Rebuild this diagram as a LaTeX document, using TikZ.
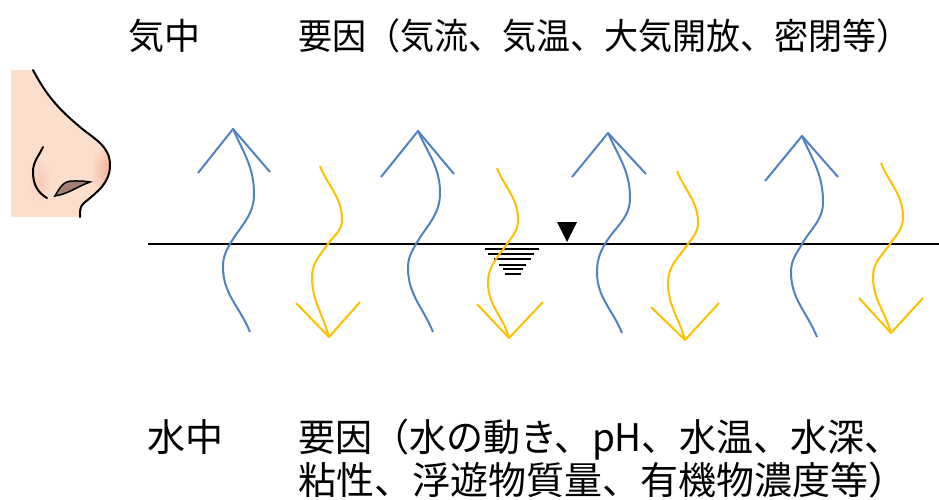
\documentclass[tikz,border=0pt]{standalone}
\usepackage{fontspec}
\newfontfamily\jp{Noto Sans CJK JP}
\definecolor{flowblue}{RGB}{79,129,195}
\definecolor{flowyellow}{RGB}{255,192,0}
\definecolor{skin}{RGB}{252,222,205}
\definecolor{skintip}{RGB}{245,176,152}
\definecolor{nostril}{RGB}{160,128,112}
\begin{document}
\begin{tikzpicture}[x=1pt,y=-1pt,
  caption/.style={inner sep=0pt, anchor=base west, font=\jp\fontsize{36}{43}\selectfont},
  bigcaption/.style={caption, font=\jp\fontsize{38}{45}\selectfont},
  flowup/.style={draw=flowblue, line width=2pt, line join=round},
  flowdown/.style={draw=flowyellow, line width=2pt, line join=round},
  surface/.style={line width=2.5pt, black},
  ripple/.style={line width=2pt, black},
  outline/.style={line width=2pt, black, line cap=round}]
\useasboundingbox (0,0) rectangle (939,499);

% --- nose ---
\begin{scope}
  \clip (11,70) -- (33,70) to[out=-62,in=140] (80,127) to[out=-40,in=90] (110,165)
        to[out=-90,in=40] (84,203) to[out=-140,in=90] (80,217) -- (11,217) -- cycle;
  \fill[skin] (0,60) rectangle (130,230);
  \shade[inner color=skintip, outer color=skin] (110,170) ellipse (20 and 30);
  \shade[inner color=skintip!45!skin, outer color=skin] (40,180) ellipse (12 and 22);
\end{scope}
\draw[outline] (33,70) to[out=-62,in=140] (80,127) to[out=-40,in=90] (110,165)
      to[out=-90,in=40] (84,203) to[out=-140,in=90] (80,217);
\draw[outline] (43,147) to[out=-115,in=90] (33,172) to[out=-90,in=150] (47,198);
\draw[line width=1.5pt, fill=nostril] (55,196) to[out=60,in=180] (72,181)
      to[out=0,in=170] (90,182) to[out=-160,in=10] (55,196) -- cycle;

% --- texts ---
\node[caption] (airlabel) at (128,49) {気中};
\node[caption] (airfactors) at (298,49)
  {\scalebox{0.945}[1]{要因（気流、気温、大気開放、密閉等）}};
\node[bigcaption] (waterlabel) at (147,451) {水中};
\node[bigcaption] (waterfactorsA) at (298,451)
  {\scalebox{0.975}[1]{要因（水の動き、pH、水温、水深、}};
\node[bigcaption] (waterfactorsB) at (298,494) {粘性、浮遊物質量、有機物濃度等）};

% --- water surface ---
\draw[surface] (148,244) -- (939,244);
\fill[black] (557,222) -- (577,222) -- (567,242) -- cycle;
\draw[ripple] (485,249) -- (539,249);
\draw[ripple] (488,254) -- (534,254);
\draw[ripple] (494,259) -- (531,259);
\draw[ripple] (499,265) -- (526,265);
\draw[ripple] (503,269) -- (523,269);
\draw[ripple] (505,274) -- (521,274);

% --- rising flows (blue) ---
\foreach \tx/\ty/\lx/\ly/\rx/\ry/\mx/\my/\cx/\nx/\ny/\ex/\ey in {
  233/129/198/173/270/172/254/194/230/223/267/250/332,
  418/131/381/177/454/174/440/193/416/408/268/433/332,
  608/133/572/177/646/174/630/198/605/597/272/622/333,
  802/136/765/181/838/177/823/202/802/791/272/817/337}{
  \draw[flowup] (\lx,\ly) -- (\tx,\ty) -- (\rx,\ry);
  \draw[flowup] (\tx,\ty) to[out=-66,in=90] (\mx,\my) to[out=-90,in=60] (\cx,244)
        to[out=240,in=90] (\nx,\ny) to[out=-90,in=112] (\ex,\ey);
}

% --- sinking flows (yellow) ---
\foreach \sx/\sy/\mx/\my/\cx/\nx/\ny/\tx/\ty/\lx/\ly/\rx/\ry in {
  320/166/342/220/328/312/277/329/337/296/303/360/302,
  497/168/518/220/507/488/283/509/338/477/304/543/302,
  677/171/698/223/688/668/283/685/340/651/307/719/303,
  881/163/903/217/890/873/277/891/333/859/298/923/298}{
  \draw[flowdown] (\sx,\sy) to[out=-68,in=90] (\mx,\my) to[out=-90,in=55] (\cx,244)
        to[out=235,in=90] (\nx,\ny) to[out=-90,in=105] (\tx,\ty);
  \draw[flowdown] (\lx,\ly) -- (\tx,\ty) -- (\rx,\ry);
}
\end{tikzpicture}
\end{document}
